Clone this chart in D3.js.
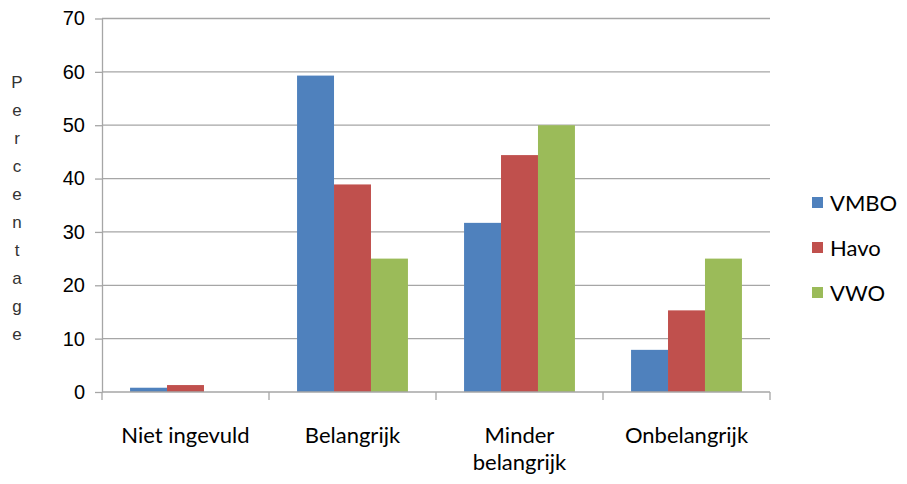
<!DOCTYPE html>
<meta charset="utf-8">
<html>
<head>
    <script src="https://cdn.jsdelivr.net/npm/d3@7/dist/d3.min.js"></script>
    <style>
        body { margin: 0; background: #fff; }
    </style>
</head>
<body>
    <script>
    var categories = ["Niet ingevuld", "Belangrijk", "Minder belangrijk", "Onbelangrijk"];
    var series = ["VMBO", "Havo", "VWO"];
    var vmbo = [0.8, 59.3, 31.7, 7.9];
    var havo = [1.3, 38.9, 44.4, 15.3];
    var vwo = [0, 25, 50, 25];
    var yTicks = [0, 10, 20, 30, 40, 50, 60, 70];
    var colors = ["#4f81bd", "#c0504d", "#9bbb59"];
    var yTitle = "Percentage";

    var values = [vmbo, havo, vwo];

    var svg = d3.select("body")
        .append("svg")
        .attr("width", 907)
        .attr("height", 484);

    // note: "top" is taken by window.top, so use plot* names
    var plotLeft = 102, plotRight = 770, plotTop = 18.5, plotBottom = 392;

    var xScale = d3.scaleBand()
        .domain(categories)
        .range([plotLeft, plotRight]);

    var band = xScale.bandwidth();
    var x1 = d3.scaleBand()
        .domain(series)
        .range([band * 0.168, band * 0.832]);

    var yScale = d3.scaleLinear()
        .domain([0, 70])
        .range([plotBottom, plotTop]);

    // gridlines
    svg.selectAll("line.grid")
        .data(yTicks.filter(function(d) { return d > 0; }))
        .enter()
        .append("line")
        .attr("class", "grid")
        .attr("x1", plotLeft)
        .attr("x2", plotRight)
        .attr("y1", function(d) { return yScale(d); })
        .attr("y2", function(d) { return yScale(d); })
        .attr("stroke", "#a6a6a6")
        .attr("stroke-width", 1.3);

    // bars
    var groups = svg.selectAll("g.cat")
        .data(categories)
        .enter()
        .append("g")
        .attr("class", "cat")
        .attr("transform", function(d) { return "translate(" + xScale(d) + ",0)"; });

    groups.selectAll("rect")
        .data(function(d, i) {
            return series.map(function(s, j) { return { s: s, v: values[j][i], j: j }; });
        })
        .enter()
        .append("rect")
        .attr("x", function(d) { return x1(d.s); })
        .attr("y", function(d) { return yScale(d.v); })
        .attr("width", x1.bandwidth())
        .attr("height", function(d) { return plotBottom - yScale(d.v); })
        .attr("fill", function(d) { return colors[d.j]; });

    // y axis
    var yAxis = svg.append("g")
        .attr("transform", "translate(" + plotLeft + ",0)")
        .call(d3.axisLeft(yScale).tickValues(yTicks).tickSize(7).tickPadding(10).tickSizeOuter(0));
    yAxis.select(".domain").attr("stroke", "#a6a6a6").attr("stroke-width", 1.3);
    yAxis.selectAll(".tick line").attr("stroke", "#a6a6a6").attr("stroke-width", 1.3);
    yAxis.selectAll(".tick text")
        .attr("font-family", "'Liberation Sans', Arial, sans-serif")
        .attr("font-size", "20px")
        .attr("fill", "#000");

    // x axis
    var xAxis = svg.append("g")
        .attr("transform", "translate(0," + plotBottom + ")");
    xAxis.append("line")
        .attr("x1", plotLeft).attr("x2", plotRight)
        .attr("y1", 0).attr("y2", 0)
        .attr("stroke", "#a6a6a6").attr("stroke-width", 1.3);
    var bounds = categories.map(function(d) { return xScale(d); }).concat([plotRight]);
    xAxis.selectAll("line.tk")
        .data(bounds)
        .enter()
        .append("line")
        .attr("class", "tk")
        .attr("x1", function(d) { return d; })
        .attr("x2", function(d) { return d; })
        .attr("y1", 0).attr("y2", 8)
        .attr("stroke", "#a6a6a6").attr("stroke-width", 1.3);

    var labels = xAxis.selectAll("text")
        .data(categories)
        .enter()
        .append("text")
        .attr("x", function(d) { return xScale(d) + band / 2; })
        .attr("y", 51)
        .attr("text-anchor", "middle")
        .attr("font-family", "Lato, 'Open Sans', sans-serif")
        .attr("font-size", "22px")
        .attr("fill", "#000");
    labels.each(function(d) {
        var t = d3.select(this);
        var parts = d === "Minder belangrijk" ? ["Minder", "belangrijk"] : [d];
        parts.forEach(function(p, i) {
            t.append("tspan")
                .attr("x", xScale(d) + band / 2)
                .attr("dy", i === 0 ? 0 : 27)
                .text(p);
        });
    });

    // y title, stacked letters
    svg.append("g")
        .selectAll("text")
        .data(yTitle.split(""))
        .enter()
        .append("text")
        .attr("x", 17)
        .attr("y", function(d, i) { return 88 + i * 28; })
        .attr("text-anchor", "middle")
        .attr("font-family", "'Liberation Sans', Arial, sans-serif")
        .attr("font-size", "17px")
        .attr("fill", "#333")
        .text(function(d) { return d; });

    // legend
    var legend = svg.selectAll("g.leg")
        .data(series)
        .enter()
        .append("g")
        .attr("class", "leg")
        .attr("transform", function(d, i) { return "translate(812," + (203 + i * 45) + ")"; });
    legend.append("rect")
        .attr("x", 0).attr("y", -6)
        .attr("width", 11).attr("height", 11)
        .attr("fill", function(d, i) { return colors[i]; });
    legend.append("text")
        .attr("x", 18)
        .attr("y", 8)
        .attr("font-family", "Lato, 'Open Sans', sans-serif")
        .attr("font-size", "22px")
        .attr("fill", "#000")
        .text(function(d) { return d; });
    </script>
</body>
</html>
